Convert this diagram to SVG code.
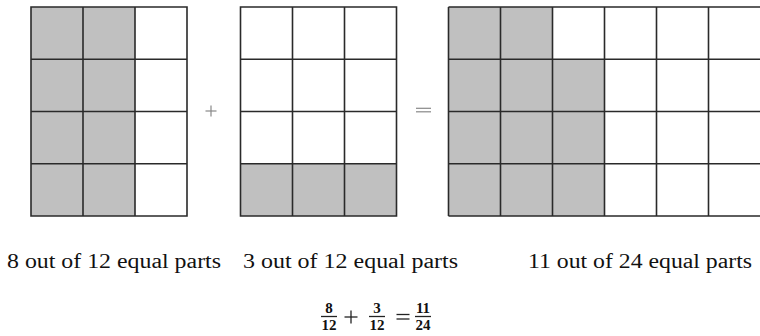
<svg xmlns="http://www.w3.org/2000/svg" width="760" height="336" viewBox="0 0 760 336">
<style>
.on{fill:#c0c0c0}
.off{fill:#ffffff}
.ln{stroke:#2a2a2a;stroke-width:1.6;fill:none}
.lbl{font-family:"Liberation Serif","Times New Roman",serif;font-size:20px;fill:#111}
.frac{font-family:"Liberation Serif","Times New Roman",serif;font-size:15px;fill:#111;text-anchor:middle;font-weight:bold}
.op{stroke:#888;stroke-width:1.2}
.op2{stroke:#222;stroke-width:1.3}
</style>
<rect width="760" height="336" fill="#ffffff"/>
<g id="grid1">
<rect class="on" x="31" y="7" width="104" height="209"/>
<rect class="off" x="135" y="7" width="52" height="209"/>
<path class="ln" d="M31 7H187V216H31Z M83 7V216 M135 7V216 M31 59.25H187 M31 111.5H187 M31 163.75H187"/>
</g>
<g id="plus">
<line class="op" x1="205.5" y1="111" x2="216.5" y2="111"/>
<line class="op" x1="211" y1="105.5" x2="211" y2="116.5"/>
</g>
<g id="grid2">
<rect class="off" x="240.5" y="7" width="156" height="209"/>
<rect class="on" x="240.5" y="163.75" width="156" height="52.25"/>
<path class="ln" d="M240.5 7H396.5V216H240.5Z M292.5 7V216 M344.5 7V216 M240.5 59.25H396.5 M240.5 111.5H396.5 M240.5 163.75H396.5"/>
</g>
<g id="equals">
<line class="op" x1="416" y1="108.3" x2="431" y2="108.3"/>
<line class="op" x1="416" y1="111.8" x2="431" y2="111.8"/>
</g>
<g id="grid3">
<rect class="off" x="448.5" y="7" width="314" height="209"/>
<rect class="on" x="448.5" y="7" width="104" height="209"/>
<rect class="on" x="552.5" y="59.25" width="52" height="156.75"/>
<path class="ln" d="M448.5 7H764 M448.5 216H764 M448.5 7V216 M500.5 7V216 M552.5 7V216 M604.5 7V216 M656.5 7V216 M708.5 7V216 M448.5 59.25H764 M448.5 111.5H764 M448.5 163.75H764"/>
</g>
<g id="labels">
<text class="lbl" x="7" y="268" textLength="214" lengthAdjust="spacingAndGlyphs">8 out of 12 equal parts</text>
<text class="lbl" x="243" y="268" textLength="215" lengthAdjust="spacingAndGlyphs">3 out of 12 equal parts</text>
<text class="lbl" x="528" y="268" textLength="224" lengthAdjust="spacingAndGlyphs">11 out of 24 equal parts</text>
</g>
<g id="equation">
<text class="frac" x="329" y="313">8</text>
<line class="op2" x1="321" y1="316.5" x2="337" y2="316.5"/>
<text class="frac" x="329" y="329.5">12</text>
<line class="op2" x1="344.5" y1="317" x2="357.5" y2="317"/>
<line class="op2" x1="351" y1="310.5" x2="351" y2="323.5"/>
<text class="frac" x="377" y="313">3</text>
<line class="op2" x1="369" y1="316.5" x2="385" y2="316.5"/>
<text class="frac" x="377" y="329.5">12</text>
<line class="op2" x1="396.5" y1="314.5" x2="409.5" y2="314.5"/>
<line class="op2" x1="396.5" y1="319" x2="409.5" y2="319"/>
<text class="frac" x="423" y="313">11</text>
<line class="op2" x1="415" y1="316.5" x2="431" y2="316.5"/>
<text class="frac" x="423" y="329.5">24</text>
</g>
</svg>
